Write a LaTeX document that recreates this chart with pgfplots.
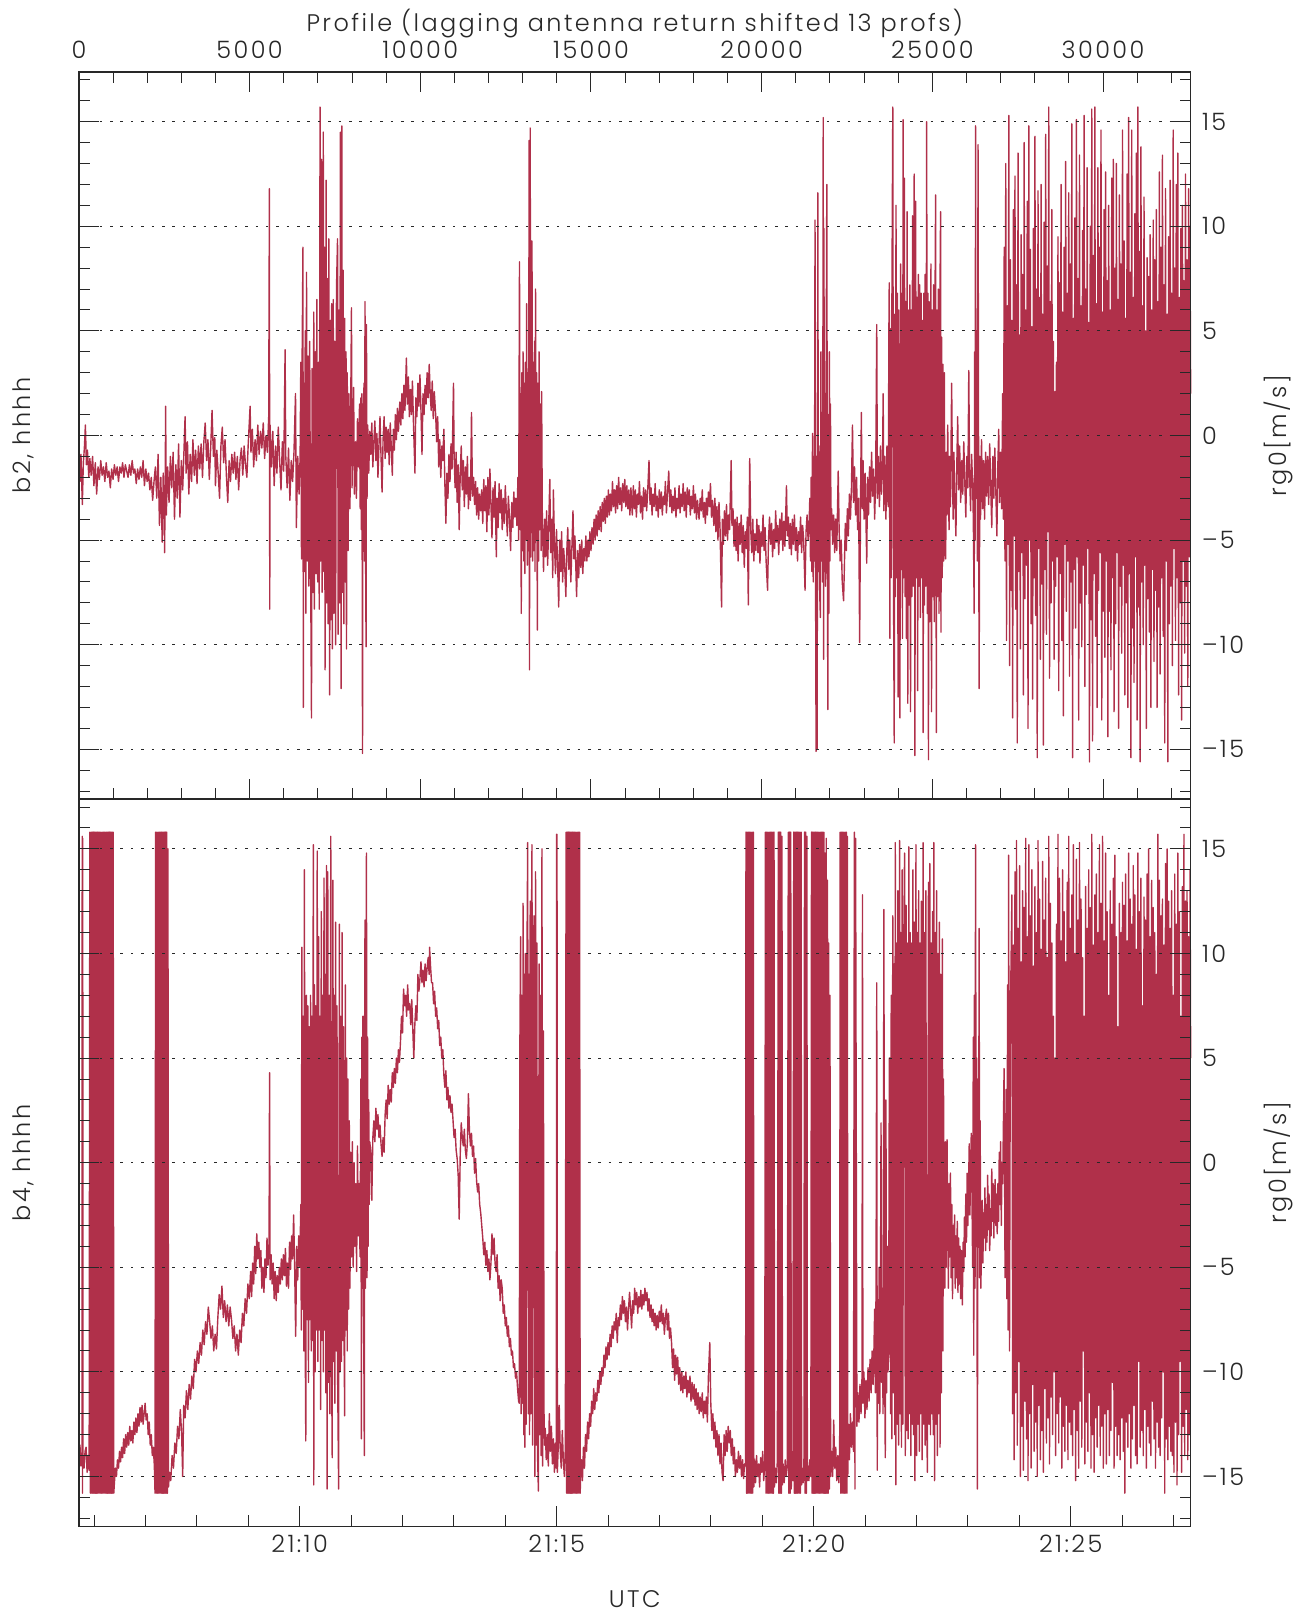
\documentclass[border=0pt]{standalone}
\usepackage{fontspec}
\setmainfont{Poppins}[UprightFont=* Light, LetterSpace=10]
\usepackage{pgfplots}
\pgfplotsset{compat=1.18}
\definecolor{dat}{RGB}{176,48,74}
\definecolor{ink}{RGB}{40,40,40}
\newcommand\lbl{\fontsize{12}{14}\selectfont}
\pgfplotsset{
  panel/.style={
    scale only axis, width=556.5pt, height=364pt,
    xmin=0, xmax=32566, ymin=-17.38, ymax=17.38,
    axis on top, clip=false, scaled x ticks=false,
    axis line style={draw=ink, line width=0.6pt},
    tick style={draw=ink, line width=0.5pt},
    tick align=inside, major tick length=10pt, minor tick length=5.5pt,
    ytick={-15,-10,...,15}, minor ytick={-17,-16,...,17}, ytick pos=both,
    yticklabel pos=right,
    yticklabels={--15,--10,--5,0,5,10,15},
    yticklabel style={anchor=west, inner sep=0pt, xshift=5.5pt},
    ymajorgrids,
    grid style={draw=ink, line width=0.5pt, dash pattern=on 1.3pt off 3.9pt},
    tick label style={font=\lbl, text=ink},
  },
  trace/.style={dat, line width=0.7pt, line join=round},
}
\begin{document}
\begin{tikzpicture}
% upper panel: b2
\begin{axis}[panel, name=top,
  xtick={0,5000,...,30000}, xticklabels={0,5000,10000,15000,20000,25000,30000},
  minor xtick={1000,2000,...,32000}, xtick pos=both, xticklabel pos=right,
  xticklabel style={anchor=south, inner sep=0pt, yshift=6.5pt},
]
\addplot[trace] coordinates {
(0,-1.0) (30,-2.2) (60,-0.9) (100,-3.3) (130,-1.3) (160,-0.6) (190,0.5) (220,-1.4) (250,-0.7) (290,-2.0) (320,-1.1) (360,-1.9) (400,-1.0) (440,-2.4) (480,-1.3) (520,-2.8) (560,-1.5) (600,-2.1) (640,-1.2) (680,-1.9) (720,-1.5) (760,-2.2) (800,-1.3) (840,-2.0) (880,-1.7) (920,-2.5) (960,-1.6) (1000,-2.1) (1040,-1.4) (1080,-1.9) (1120,-1.5) (1160,-2.2) (1200,-1.5) (1240,-1.8) (1280,-1.3) (1320,-2.0) (1360,-1.4) (1400,-1.7) (1440,-2.0) (1480,-1.4) (1520,-1.9) (1560,-1.2) (1600,-1.8) (1640,-1.6) (1680,-2.3) (1720,-1.6) (1760,-2.1) (1800,-1.5) (1840,-2.0) (1880,-1.2) (1920,-2.4) (1960,-1.6) (2000,-2.2) (2040,-1.8) (2080,-2.6) (2120,-2.0) (2160,-3.1) (2200,-2.2)
(2240,-1.5) (2280,-3.0) (2320,-0.9) (2360,-4.3) (2400,-2.0) (2440,-5.1) (2470,-1.8) (2500,-3.6) (2510,-5.6) (2530,-2.0) (2540,1.4) (2560,-3.8) (2600,-1.5) (2640,-3.2)
(2680,-1.0) (2720,-2.5) (2760,-0.8) (2800,-4.0) (2840,-1.4) (2880,-3.0) (2920,-0.4) (2960,-3.9) (3000,-1.2) (3040,-2.6) (3080,-0.6) (3110,0.9) (3140,-1.8) (3180,-0.3) (3220,-2.8) (3260,-0.9) (3300,-2.2) (3340,-0.2) (3380,-1.9) (3420,-0.7) (3460,-2.3) (3500,-0.5) (3540,-1.6) (3580,-0.4) (3620,-2.0) (3660,-0.3) (3700,0.6) (3740,-1.2) (3780,-0.2) (3820,-2.1) (3860,-0.6) (3900,1.2) (3940,-1.0) (3980,-0.1) (4000,-2.4) (4040,-0.7) (4080,-1.8) (4120,-3.0) (4160,-0.5) (4200,0.4) (4240,-1.3) (4280,-0.2) (4320,-1.9) (4360,-3.2) (4400,-1.2) (4440,-2.2) (4480,-0.9) (4520,-1.8) (4560,-0.8) (4600,-2.1) (4640,-1.0) (4680,-2.6) (4720,-1.2) (4760,-0.6) (4800,-1.9) (4840,-0.5) (4880,-1.4) (4920,-2.0) (4960,-0.4)
(5015,1.4) (5040,-0.8) (5080,0.3) (5120,-1.5) (5160,-0.2) (5200,-1.2) (5240,0.5) (5280,-0.9) (5320,0.2) (5360,-0.6) (5400,0.6) (5440,-1.1) (5480,0.0) (5520,-0.8) (5560,0.9)
(5580,11.8) (5590,-8.3) (5600,0.5)
(5640,-1.5) (5680,0.2) (5720,-2.4) (5760,-0.5) (5800,-1.8) (5840,0.4) (5880,-1.2) (5920,-2.6) (5960,-0.3) (6000,-1.7) (6040,4.1) (6060,-1.0) (6100,-2.5) (6140,-0.6) (6180,-3.1) (6220,-1.2) (6260,-2.2) (6300,-0.8) (6345,2.0) (6370,-4.4) (6410,-1.0) (6450,-2.8)
(6480,-1.0) (6500,3.5) (6520,-5.9) (6540,4.0) (6563,9.0) (6573,-13.0) (6590,2.5) (6610,-6.5) (6630,5.0) (6650,-8.5) (6667,7.8) (6690,-6.0) (6710,3.8) (6735,-7.2) (6760,4.5) (6785,-5.5) (6813,-13.5) (6830,3.2) (6855,-7.5) (6880,5.9) (6897,-8.3) (6920,4.0) (6945,-6.6) (6970,6.5) (6995,-7.0) (7020,3.5) (7040,-8.3) (7064,15.7) (7080,-6.0) (7106,13.2) (7125,-7.5) (7158,14.5) (7175,-6.5) (7195,9.0) (7210,-11.2) (7242,12.2) (7260,-8.0) (7280,7.5) (7300,-9.0) (7320,9.4) (7346,-12.4) (7365,5.5) (7385,-8.8) (7405,6.3) (7425,-10.2) (7450,6.5) (7470,-8.5) (7495,4.5) (7520,-10.0) (7545,7.0) (7576,9.4) (7595,-9.5) (7620,6.0) (7640,-8.0) (7660,14.5) (7681,-12.1) (7702,14.8) (7720,-7.5) (7740,7.9) (7760,-9.0) (7785,5.6) (7805,-7.0) (7825,4.0) (7838,-10.2) (7860,3.0) (7885,-5.5) (7910,2.0) (7940,-3.5)
(7984,6.1) (8000,-2.5) (8030,0.5) (8047,2.3) (8070,-2.8) (8100,-0.3) (8130,-3.0) (8160,0.8) (8190,-1.5) (8220,1.5) (8240,-3.5)
(8260,1.8) (8275,-4.5) (8290,2.0) (8308,-15.2) (8320,1.5) (8335,-5.0) (8350,2.5) (8365,-6.0) (8381,6.4) (8395,-4.8) (8412,-10.1) (8423,5.3) (8440,-3.0) (8460,0.5)
(8490,-1.8) (8520,0.2) (8550,-0.9) (8580,0.6) (8610,-1.5) (8640,-0.3) (8670,0.7) (8700,-1.2) (8730,0.1) (8760,-2.0) (8790,-0.4) (8820,0.9) (8850,-1.0) (8880,-2.7) (8910,-0.2) (8940,0.9) (8970,-1.1) (9000,0.4) (9030,-0.8) (9060,0.3) (9090,-1.4) (9120,0.6) (9150,-0.5) (9180,-1.9) (9210,0.3) (9240,-0.7) (9270,1.0) (9300,-0.2) (9330,1.3) (9360,0.2) (9400,1.6)
(9430,0.5) (9460,2.0) (9490,0.8) (9520,2.4) (9550,1.2) (9593,3.7) (9620,1.5) (9650,2.8) (9680,0.9) (9710,2.2) (9740,1.0) (9770,2.6) (9800,0.6) (9844,-1.8) (9870,1.8) (9900,0.9) (9930,2.5) (9960,1.4) (9990,2.9) (10020,1.2) (10050,-0.9) (10080,2.0) (10110,1.0) (10140,2.4) (10170,1.5) (10200,3.0) (10230,1.8) (10262,3.4) (10290,2.0) (10320,1.2) (10350,2.6) (10380,0.8) (10410,2.1) (10450,1.0)
(10480,-0.3) (10510,0.9) (10540,-1.5) (10570,-0.2) (10600,-2.0) (10630,-0.5) (10660,-1.2) (10690,0.3) (10720,-2.3) (10750,-4.2) (10780,-1.8) (10810,-3.0) (10840,-0.9) (10870,-2.2) (10900,-0.4) (10930,-1.6) (10973,2.5) (10990,-1.0) (11020,-2.5) (11050,-0.8) (11080,-3.2) (11110,-1.4) (11140,-4.5) (11170,-1.8) (11200,-0.5) (11230,-2.6) (11260,-1.2) (11290,-3.4) (11320,-1.5) (11350,-2.8) (11380,-1.0) (11410,-3.5) (11440,-2.0) (11470,-3.1) (11500,1.1) (11530,-2.9) (11560,-2.0) (11590,-3.3) (11620,-2.2) (11650,-3.8) (11680,-2.5) (11710,-4.0) (11740,-2.8) (11770,-3.6) (11800,-2.6)
(11830,-4.2) (11860,-2.1) (11890,-3.6) (11920,-2.4) (11950,-4.6) (11980,-2.0) (12010,-3.8) (12040,-1.6) (12070,-3.3) (12100,-4.9) (12130,-2.5) (12160,-3.9) (12190,-2.2) (12227,-5.8) (12250,-3.0) (12280,-4.4) (12310,-2.3) (12340,-3.7) (12370,-2.6) (12400,-4.5) (12430,-3.0) (12460,-4.2) (12490,-2.4) (12520,-3.6) (12550,-4.8) (12580,-2.9) (12610,-3.8) (12645,-5.5) (12680,-3.2) (12710,-4.4) (12740,-2.7) (12770,-3.9) (12800,-3.0) (12830,-4.3)
(12860,-2.0) (12880,-5.0) (12906,8.3) (12925,-4.5) (12940,2.0) (12958,-8.5) (12975,3.0) (12990,-5.5) (13010,4.0) (13030,-6.0) (13045,2.5) (13063,-6.6) (13080,3.5) (13100,-5.0) (13115,6.3) (13135,-6.2) (13150,3.0) (13170,-5.5) (13188,14.1) (13198,-11.2) (13220,14.7) (13235,-5.8) (13255,5.0) (13272,9.3) (13290,-6.0) (13305,3.5) (13325,-5.5) (13345,4.5) (13360,-6.5) (13376,7.0) (13395,-5.0) (13410,3.0) (13428,-9.3) (13445,2.5) (13465,-6.0) (13480,4.0) (13500,-4.5) (13520,1.5) (13540,-5.5) (13554,2.1) (13575,-4.0)
(13610,-6.5) (13640,-4.0) (13670,-5.8) (13700,-3.6) (13730,-6.2) (13760,-4.4) (13794,-2.1) (13820,-5.6) (13850,-4.0) (13880,-6.8) (13899,-2.6) (13930,-5.2) (13960,-6.6) (13990,-4.5) (14020,-6.0) (14055,-8.2) (14080,-5.0) (14110,-6.5) (14140,-4.6) (14170,-7.0) (14200,-5.4) (14230,-6.2) (14264,-7.7) (14290,-5.6) (14320,-4.4) (14350,-6.4) (14380,-5.0) (14410,-7.0) (14440,-5.4) (14473,-3.6) (14500,-5.9) (14530,-4.8) (14560,-6.5) (14578,-7.7) (14610,-5.5) (14640,-6.8) (14670,-5.2) (14700,-6.3) (14730,-5.0) (14760,-6.6) (14790,-5.4) (14820,-6.0)
(14850,-4.8) (14880,-6.0) (14910,-5.0) (14940,-5.8) (14970,-4.6) (15000,-5.5) (15030,-4.4) (15060,-5.2) (15090,-4.0) (15120,-5.0) (15150,-3.8) (15180,-4.8) (15210,-3.6) (15240,-4.5) (15270,-3.4) (15300,-4.6) (15330,-3.2) (15360,-4.1) (15390,-3.0) (15420,-4.2) (15450,-2.9) (15480,-3.9) (15510,-2.6) (15540,-3.8) (15570,-2.8) (15600,-3.6) (15630,-2.2) (15660,-3.4) (15690,-2.6) (15720,-3.7) (15750,-2.4) (15780,-3.5) (15810,-2.0) (15840,-3.3) (15870,-2.5) (15900,-3.6) (15930,-2.3) (15960,-3.2) (15990,-2.1) (16020,-3.4) (16050,-2.4) (16080,-3.5) (16110,-2.6) (16140,-3.8) (16170,-2.5)
(16210,-3.8) (16240,-2.4) (16270,-3.5) (16300,-2.6) (16330,-3.9) (16360,-2.8) (16390,-3.3) (16420,-2.2) (16450,-3.7) (16480,-2.9) (16510,-4.0) (16540,-2.5) (16570,-3.4) (16600,-2.6) (16630,-3.6) (16660,-2.7) (16700,-1.2) (16730,-3.3) (16760,-2.5) (16790,-3.8) (16820,-2.8) (16850,-3.4) (16880,-2.3) (16910,-3.6) (16940,-2.9) (16970,-3.9) (17000,-2.6) (17030,-3.5) (17060,-2.7) (17090,-3.8) (17120,-2.9) (17150,-3.3) (17180,-2.2) (17210,-3.7) (17240,-2.8) (17278,-1.7) (17310,-3.4) (17340,-2.6) (17370,-3.7) (17400,-2.9) (17430,-3.6) (17460,-2.5) (17490,-3.9) (17520,-3.0) (17550,-3.5) (17580,-2.4) (17610,-3.7) (17640,-2.8) (17670,-3.4) (17700,-2.3) (17730,-3.6) (17760,-2.7) (17790,-3.9) (17820,-2.5) (17850,-3.3) (17880,-2.6) (17910,-3.8) (17940,-2.9) (17970,-3.5) (18000,-2.4) (18030,-3.7) (18060,-2.8) (18090,-4.0) (18120,-3.1) (18166,-4.0) (18200,-3.0) (18230,-3.6) (18260,-2.6) (18290,-3.9) (18320,-3.2) (18350,-4.2) (18380,-3.0) (18410,-3.8) (18440,-2.7) (18470,-3.4) (18500,-2.3) (18530,-3.9) (18560,-3.1)
(18600,-4.3) (18630,-3.0) (18660,-4.6) (18690,-3.4) (18720,-5.0) (18750,-3.2) (18780,-4.4) (18825,-8.2) (18850,-4.0) (18880,-5.2) (18910,-3.6) (18940,-4.8) (18970,-3.3) (19000,-5.0) (19030,-3.8) (19060,-4.5) (19107,-1.2) (19130,-4.3) (19160,-3.5) (19190,-5.3) (19220,-4.0) (19250,-5.5) (19280,-3.9) (19310,-6.0) (19340,-4.2) (19370,-5.2) (19400,-3.8) (19430,-5.6) (19460,-4.3) (19490,-6.3) (19520,-4.6) (19550,-5.4) (19580,-3.9) (19609,-8.1) (19630,-4.2) (19650,-1.1) (19680,-4.5) (19710,-5.6) (19740,-4.0) (19770,-6.0) (19800,-4.7) (19830,-5.5)
(19860,-4.0) (19890,-5.6) (19920,-4.3) (19950,-6.1) (19980,-4.6) (20010,-5.3) (20040,-3.8) (20070,-5.5) (20100,-4.4) (20130,-6.0) (20173,-7.4) (20200,-5.0) (20230,-3.9) (20260,-5.2) (20290,-4.2) (20320,-5.8) (20350,-4.5) (20380,-5.4) (20410,-3.6) (20440,-5.1) (20470,-4.3) (20500,-5.7) (20530,-4.0) (20560,-5.0) (20590,-3.7) (20620,-5.5) (20650,-4.1) (20680,-5.3) (20727,-2.4) (20750,-4.8) (20780,-3.9) (20810,-5.4) (20840,-4.2) (20870,-5.7) (20900,-4.0) (20930,-5.2) (20960,-3.8) (20990,-5.5) (21020,-4.4) (21050,-6.0) (21080,-4.6) (21110,-5.2) (21140,-3.9) (21170,-5.6) (21200,-4.3) (21230,-5.0) (21270,-7.4) (21300,-4.6) (21330,-3.8) (21360,-5.0) (21390,-4.2)
(21410,-3.0) (21430,-6.0) (21450,-2.0) (21470,-6.5) (21490,0.1) (21510,-7.0) (21530,-1.0) (21545,-6.0) (21563,10.3) (21580,-7.5) (21594,-15.1) (21610,-1.0) (21625,-15.0) (21646,11.6) (21660,-6.5) (21680,-0.5) (21700,-7.5) (21720,-8.7) (21735,4.0) (21750,-6.0) (21770,1.0) (21785,-7.0) (21803,15.2) (21815,-10.7) (21824,9.9) (21840,-6.5) (21855,2.0) (21870,-7.2) (21890,3.5) (21908,12.0) (21925,-6.0) (21939,-13.1) (21955,1.0) (21970,-8.5) (21985,4.0) (22000,-6.0) (22015,1.5) (22030,-4.5)
(22050,-3.5) (22080,-5.2) (22110,-3.8) (22140,-5.6) (22170,-4.0) (22200,-5.5) (22242,-1.7) (22270,-4.6) (22300,-6.0) (22330,-5.0) (22360,-7.0) (22399,-7.9) (22420,-6.5) (22450,-4.2) (22480,-5.5) (22510,-3.5) (22540,-4.8) (22570,-2.8) (22600,-4.0) (22630,-2.5) (22660,0.5) (22690,-3.2) (22720,-1.5) (22750,-3.8) (22780,-2.0) (22810,-4.5) (22840,-3.0) (22870,-9.9)
(22900,-2.5) (22920,1.1) (22945,-3.5) (22970,-1.2) (23000,-4.0) (23030,-1.8) (23050,-3.6) (23078,-6.1) (23100,-2.0) (23130,-3.8) (23160,-1.5) (23190,-3.2) (23220,-0.8) (23250,-2.9) (23280,-1.6) (23310,-4.0) (23340,-2.0) (23371,5.3) (23390,-3.0) (23420,-1.0) (23450,-3.4) (23480,-0.5) (23510,-2.8) (23540,-1.2) (23559,2.0) (23580,-3.6) (23610,-1.0) (23640,-4.0) (23670,-0.5) (23690,-3.0)
(23710,-3.4) (23725,4.7) (23737,7.3) (23757,-9.7) (23775,5.1) (23795,-6.8) (23815,6.4) (23841,15.7) (23860,-6.4) (23883,-14.7) (23900,5.8) (23918,-7.7) (23935,11.0) (23955,-6.8) (23975,6.8) (23995,-12.5) (24015,6.0) (24030,-7.2) (24050,-13.5) (24070,8.2) (24090,-6.4) (24110,6.8) (24125,-9.7) (24144,15.1) (24160,-6.8) (24180,12.3) (24200,-7.7) (24220,6.4) (24240,-9.7) (24260,10.7) (24280,-12.8) (24300,6.0) (24320,-8.1) (24340,7.2) (24360,-13.2) (24380,6.0) (24400,-7.7) (24420,10.5) (24440,-7.2) (24468,12.5) (24489,-15.3) (24510,11.2) (24530,-6.8) (24550,6.6) (24570,-12.2) (24590,7.7) (24610,-7.2) (24630,7.2) (24650,-8.7) (24670,6.8) (24690,-6.8) (24710,5.5) (24730,-14.2) (24750,6.8) (24770,-8.1) (24790,7.7) (24810,-7.2) (24834,15.0) (24850,-8.5) (24870,6.8) (24886,-15.5) (24905,6.4) (24925,-8.9) (24959,8.2) (24975,-13.2) (24995,6.0) (25015,-7.7) (25035,7.2) (25055,-8.9) (25075,5.5) (25095,11.5) (25116,-14.2) (25135,6.0) (25155,-7.7) (25175,7.0) (25195,-8.5) (25215,5.1) (25241,10.7) (25252,-9.4) (25270,4.7) (25290,-6.8) (25310,3.4) (25330,-6.0) (25350,3.0) (25370,-5.5)
(25390,-5.9) (25410,-0.8) (25430,-3.8) (25450,0.5) (25470,-2.6) (25490,-4.5) (25510,-1.0) (25530,-3.4) (25565,2.5) (25590,-2.0) (25610,-4.0) (25630,-0.8) (25660,-3.0) (25690,-4.8) (25715,-1.5) (25742,0.9) (25770,-2.6) (25800,-0.5) (25830,-3.2) (25860,-1.2) (25890,-2.8) (25920,-0.3) (25950,-2.2) (25980,-3.9) (26010,-1.0) (26040,-2.5) (26067,3.1) (26090,-1.8) (26120,-3.6) (26150,-0.9) (26180,-2.4) (26200,-4.0)
(26225,-8.5) (26240,4.0) (26255,-5.0) (26265,14.8) (26280,-3.0) (26300,5.0) (26320,-6.0) (26338,13.9) (26355,-2.0) (26370,-12.1) (26390,-1.0) (26410,-4.0)
(26440,-0.2) (26470,-3.5) (26500,-1.2) (26530,-4.0) (26560,-0.8) (26590,-2.9) (26620,-1.0) (26650,-3.3) (26680,-0.4) (26710,-2.5) (26740,-4.4) (26770,-1.0) (26800,-3.0) (26830,-0.6) (26860,-2.7) (26890,-4.8) (26920,-1.3) (26944,0.3) (26970,-3.2) (27000,-0.8) (27030,-3.5)
(27060,2.0) (27082,-4.0) (27105,9.0) (27127,-6.0) (27150,13.0) (27172,-9.8) (27195,6.2) (27217,-5.2) (27240,15.3) (27262,-11.0) (27285,8.4) (27307,-7.4) (27330,5.5) (27352,-13.5) (27375,10.8) (27397,-4.8) (27420,12.4) (27442,-8.3) (27465,7.2) (27487,-14.7) (27510,13.5) (27532,-6.5) (27555,4.8) (27577,-10.2) (27600,9.6) (27622,-5.6) (27645,7.7) (27667,-12.4) (27690,14.0) (27712,-7.8) (27735,6.0) (27757,-6.2) (27780,11.2) (27802,-14.0) (27825,14.8) (27847,-5.0) (27870,8.9) (27892,-9.0) (27915,5.2) (27937,-12.6) (27960,9.9) (27982,-6.8) (28005,14.3) (28027,-8.6) (28050,7.0) (28072,-15.4) (28095,11.7) (28117,-5.4) (28140,6.6) (28162,-10.7) (28185,12.0) (28207,-7.1) (28230,5.8) (28252,-14.8) (28275,10.2) (28297,-6.4) (28320,14.4) (28342,-9.5) (28365,8.1) (28387,-4.6) (28410,15.7) (28432,-11.6) (28455,6.4) (28477,-8.0) (28500,10.8) (28522,-6.0) (28545,4.5) (28567,-10.7) (28590,2.1) (28612,-7.2) (28635,3.5) (28657,-5.8) (28680,9.5) (28702,-12.2) (28725,7.3) (28747,-6.6) (28770,12.0) (28792,-9.8) (28815,5.9) (28837,-13.4) (28860,9.0) (28882,-5.2) (28905,13.1) (28927,-8.4) (28950,6.8) (28972,-6.0) (28995,11.6) (29017,-11.5) (29040,8.2) (29062,-7.0) (29085,14.9) (29107,-15.4) (29130,5.6) (29152,-6.4) (29175,10.4) (29197,-9.2) (29220,15.1) (29242,-5.8) (29265,7.5) (29287,-13.6) (29310,13.4) (29332,-8.0) (29355,6.2) (29377,-10.1) (29400,9.8) (29422,-6.2) (29445,15.3) (29467,-12.0) (29490,7.0) (29512,-7.6) (29535,12.8) (29557,-5.4) (29580,5.4) (29602,-15.6) (29625,10.0) (29647,-8.8) (29670,15.6) (29692,-14.6) (29715,8.6) (29737,-6.6) (29760,15.7) (29782,-9.6) (29805,6.3) (29827,-13.0) (29850,12.8) (29872,-7.4) (29895,9.0) (29917,-5.6) (29940,14.6) (29962,-13.6) (29985,5.9) (30007,-8.4) (30030,10.8) (30052,-10.6) (30075,12.6) (30097,-6.0) (30120,7.4) (30142,-14.4) (30165,11.0) (30187,-8.4) (30210,6.0) (30232,-11.2) (30255,12.3) (30277,-6.8) (30300,13.2) (30322,-13.2) (30345,8.0) (30367,-9.0) (30390,13.0) (30412,-5.6) (30435,6.5) (30457,-14.0) (30480,11.5) (30502,-7.2) (30525,8.2) (30547,-10.4) (30570,14.6) (30592,-6.2) (30615,9.3) (30637,-12.4) (30660,5.6) (30682,-8.0) (30705,12.5) (30727,-13.0) (30750,15.2) (30772,-6.6) (30795,7.8) (30817,-15.4) (30840,14.6) (30862,-9.2) (30885,6.6) (30907,-11.8) (30930,10.6) (30952,-5.8) (30975,13.5) (30997,-13.6) (31020,15.7) (31042,-8.2) (31065,8.8) (31087,-15.6) (31110,13.8) (31132,-7.0) (31155,6.2) (31177,-10.0) (31200,11.4) (31222,-6.2) (31245,5.0) (31267,-14.0) (31290,8.5) (31312,-7.8) (31335,7.6) (31357,-9.4) (31380,9.6) (31402,-13.0) (31425,6.0) (31447,-6.4) (31470,10.3) (31492,-10.8) (31515,8.4) (31537,-7.4) (31560,10.8) (31582,-13.0) (31605,6.4) (31627,-8.2) (31650,12.6) (31672,-11.4) (31695,9.0) (31717,-6.8) (31740,13.4) (31762,-9.6) (31785,7.2) (31807,-14.7) (31830,11.8) (31852,-6.0) (31875,5.8) (31897,-15.6) (31920,9.5) (31942,-9.0) (31965,12.2) (31987,-7.2) (32010,6.8) (32032,-11.0) (32055,14.6) (32077,-5.4) (32100,8.0) (32122,-9.8) (32145,12.0) (32167,-6.8) (32190,13.5) (32212,-12.4) (32235,6.6) (32257,-8.0) (32280,9.9) (32302,-13.6) (32325,11.0) (32347,-6.0) (32370,7.4) (32392,-10.4) (32415,12.5) (32437,-7.2) (32460,8.4) (32482,-12.0) (32505,11.8) (32527,-5.8) (32545,10.0) (32566,2.0)
};
\coordinate (TL) at (rel axis cs:0,1);
\coordinate (BL) at (rel axis cs:0,0);
\node[rotate=90, font=\lbl, text=ink] at (rel axis cs:-0.0503,0.5) {b2, hhhh};
\node[rotate=90, font=\lbl, text=ink] at (rel axis cs:1.079,0.5) {rg0[m/s]};
\node[anchor=base, yshift=20pt, font=\lbl, text=ink] at (rel axis cs:0.5,1) {Profile (lagging antenna return shifted 13 profs)};
\end{axis}
% lower panel: b4
\begin{axis}[panel, name=bot, at={(BL)}, anchor=north west,
  xtick={6466,13995,21524,29052}, xticklabels={21:10,21:15,21:20,21:25},
  minor xtick={443,1949,3455,4960,7972,9477,10983,12489,15501,17006,18512,20018,23029,24535,26041,27546,30558,32063},
  xtick pos=left, xticklabel pos=left,
  xticklabel style={anchor=north, inner sep=0pt, yshift=-4pt},
]
\addplot[trace] coordinates {
(0,-14.2) (30,-13.5) (60,-14.5) (90,-14.0) (97,15.6) (104,-15.8) (112,15.5) (120,-14.0) (150,-14.6) (180,-13.8) (210,-13.6) (240,-14.8) (270,-14.0) (300,-14.7)
(320,15.8) (338,-15.8) (356,15.8) (374,-15.8) (392,15.8) (410,-15.8) (428,15.8) (446,-15.8) (464,15.8) (482,-15.8) (500,15.8) (518,-15.8) (536,15.8) (554,-15.8) (572,15.8) (590,-15.8) (608,15.8) (626,-15.8) (644,15.8) (662,-15.8) (680,15.8) (698,-15.8) (716,15.8) (734,-15.8) (752,15.8) (770,-15.8) (788,15.8) (806,-15.8) (824,15.8) (842,-15.8) (860,15.8) (878,-15.8) (896,15.8) (914,-15.8) (932,15.8) (950,-15.8) (968,15.8) (986,-15.8) (1004,15.8) (1022,-15.8)
(1040,-15.3) (1070,-14.6) (1100,-15.0) (1130,-14.2) (1160,-14.6) (1190,-13.8) (1220,-14.3) (1250,-13.6) (1280,-14.1) (1310,-13.2) (1340,-13.9) (1370,-13.0) (1400,-13.6) (1430,-12.9) (1460,-13.5) (1490,-12.6) (1520,-13.3) (1550,-12.8) (1580,-13.4) (1610,-12.4) (1640,-13.0) (1670,-12.2) (1700,-12.9) (1730,-12.0) (1760,-12.6) (1790,-11.7) (1820,-12.4) (1850,-11.6) (1880,-12.5) (1910,-12.0) (1940,-11.5) (1970,-12.3) (2000,-12.0) (2030,-13.0) (2060,-12.4) (2090,-13.5) (2120,-13.0) (2150,-14.0) (2180,-13.6) (2210,-14.5)
(2230,-15.8) (2248,15.8) (2266,-15.8) (2284,15.8) (2302,-15.8) (2320,15.8) (2338,-15.8) (2356,15.8) (2374,-15.8) (2392,15.8) (2410,-15.8) (2428,15.8) (2446,-15.8) (2464,15.8) (2482,-15.8) (2500,15.8) (2518,-15.8) (2536,15.8) (2554,-15.8) (2572,15.8) (2590,-15.8) (2608,15.0) (2625,-15.5)
(2650,-14.8) (2690,-15.2) (2730,-14.0) (2770,-14.6) (2810,-13.4) (2850,-13.9) (2890,-12.6) (2930,-13.2) (2970,-11.8) (3010,-13.0) (3040,-15.0) (3070,-11.6) (3110,-12.2) (3150,-10.9) (3190,-11.8) (3230,-10.6) (3270,-11.3) (3310,-10.2) (3350,-10.8) (3390,-9.4) (3430,-10.0) (3470,-9.0) (3510,-9.6) (3550,-8.6) (3590,-9.2) (3630,-8.0) (3670,-8.7) (3710,-7.6) (3750,-8.2) (3790,-6.9) (3830,-7.6) (3870,-8.4) (3910,-7.8) (3950,-9.0) (3990,-8.2) (4030,-8.9) (4070,-7.4) (4110,-6.3) (4150,-7.0) (4190,-5.9) (4230,-7.4) (4270,-6.6) (4310,-7.6) (4350,-6.8) (4390,-7.8) (4430,-6.9) (4470,-7.5) (4510,-8.4) (4550,-7.8) (4590,-9.0) (4630,-8.2) (4670,-9.2) (4710,-8.0) (4750,-8.6) (4790,-7.2) (4830,-7.8) (4870,-6.5) (4910,-7.2) (4950,-5.8) (4990,-6.5)
(5030,-5.2) (5060,-6.4) (5090,-4.8) (5120,-5.8) (5150,-4.0) (5180,-5.3) (5210,-3.4) (5240,-4.6) (5270,-3.8) (5300,-5.0) (5330,-4.2) (5360,-6.0) (5390,-5.0) (5420,-6.2) (5450,-4.6) (5480,-5.5) (5510,-3.6) (5540,-4.9) (5570,-3.8) (5585,4.3) (5600,-5.6) (5630,-4.4) (5660,-5.8) (5690,-4.8) (5720,-6.5) (5750,-5.2) (5780,-6.6) (5810,-5.4) (5840,-6.2) (5870,-5.0) (5900,-5.8) (5930,-4.6) (5960,-5.6) (5990,-4.4) (6020,-5.4) (6050,-4.1) (6080,-5.9) (6110,-4.8) (6140,-6.0) (6170,-3.8) (6200,-5.1) (6230,-3.5) (6260,-4.6) (6290,-2.5) (6320,-5.0) (6350,-8.3) (6380,-4.0) (6410,-5.6) (6440,-3.5) (6470,-5.0)
(6480,-4.0) (6500,-2.0) (6515,-8.0) (6531,10.3) (6550,-7.0) (6570,7.0) (6590,-9.0) (6605,14.0) (6625,-7.0) (6646,-13.3) (6665,8.0) (6685,-7.5) (6705,7.5) (6725,-10.5) (6745,6.5) (6765,-7.5) (6785,8.0) (6805,-9.0) (6825,7.0) (6845,-8.5) (6866,15.2) (6880,-15.4) (6900,8.5) (6920,-10.0) (6940,7.5) (6960,-8.0) (6981,14.9) (7000,-9.5) (7020,10.8) (7040,-8.0) (7060,7.0) (7080,-11.8) (7100,12.0) (7120,-8.5) (7140,8.0) (7160,-10.0) (7180,13.6) (7200,-8.0) (7220,9.0) (7235,-11.0) (7252,14.2) (7270,-15.6) (7290,13.9) (7310,-10.5) (7330,8.0) (7350,-12.0) (7378,15.6) (7400,-9.0) (7420,-14.1) (7440,13.5) (7460,-9.5) (7480,8.0) (7500,-11.5) (7520,11.5) (7540,-9.0) (7560,7.5) (7580,-10.5) (7608,-15.6) (7629,11.4) (7650,-10.0) (7670,7.0) (7690,-9.5) (7710,11.0) (7730,-8.5) (7750,6.5) (7770,-9.0) (7785,-12.1) (7805,8.5) (7825,-8.0) (7845,5.0) (7860,-9.0) (7880,4.0) (7900,-7.0) (7920,2.0) (7940,-6.0)
(7960,0.5) (7985,-4.5) (8010,1.0) (8035,-5.0) (8060,0.0) (8085,-4.0) (8110,-1.0) (8135,-5.2) (8160,0.8) (8185,-3.5) (8210,-1.0) (8235,-4.5)
(8260,4.0) (8276,-13.2) (8290,6.0) (8305,-6.0) (8320,7.0) (8340,-6.5) (8360,-14.0) (8372,7.9) (8381,11.6) (8395,-6.0) (8410,5.0) (8423,14.8) (8440,-5.5) (8455,6.0) (8470,-4.0) (8490,3.0) (8505,-2.0) (8520,1.0)
(8550,0.5) (8580,-1.8) (8610,1.2) (8640,2.0) (8670,1.0) (8700,2.6) (8730,1.6) (8760,2.3) (8790,1.2) (8820,1.8) (8850,0.9) (8880,0.3) (8910,1.2) (8940,0.5) (8970,2.3) (9000,3.0) (9030,2.1) (9060,3.7) (9090,2.8) (9120,3.5) (9150,2.9) (9180,4.3) (9210,3.6) (9240,4.5) (9270,3.8) (9300,5.0) (9330,4.3) (9360,5.4) (9390,4.8)
(9420,5.8) (9450,7.0) (9480,6.2) (9510,8.3) (9540,7.5) (9570,8.0) (9600,7.0) (9630,8.5) (9660,7.3) (9690,7.6) (9720,6.6) (9750,7.8) (9780,6.4) (9810,5.0) (9840,6.6) (9870,7.5) (9900,6.8) (9930,9.0) (9960,8.2) (9990,8.8) (10020,9.6) (10050,8.6) (10080,9.2) (10110,8.4) (10140,9.5) (10170,8.7) (10200,9.3) (10230,9.8) (10260,9.0) (10272,10.3) (10300,9.4) (10330,8.6)
(10360,8.6) (10390,7.6) (10420,8.2) (10450,7.0) (10480,7.4) (10510,6.4) (10540,6.8) (10570,5.6) (10600,6.0) (10630,5.0) (10660,5.4) (10690,4.2) (10720,3.6) (10750,4.4) (10780,3.0) (10810,3.6) (10840,2.6) (10870,3.2) (10900,2.4) (10930,2.8) (10960,2.0) (10990,1.2) (11020,1.6) (11050,0.6) (11080,0.2) (11110,-0.6) (11140,-2.7) (11170,0.4) (11200,1.9) (11230,1.2) (11260,0.8) (11290,1.6) (11320,0.6) (11350,0.2) (11380,1.0) (11410,3.3) (11440,1.5) (11470,0.8) (11500,1.4) (11530,0.3) (11560,0.8) (11590,-0.5) (11620,0.2) (11650,-0.9) (11680,-1.4) (11710,-1.0) (11740,-2.0) (11770,-2.4) (11800,-3.0)
(11830,-3.6) (11860,-4.4) (11890,-3.8) (11920,-4.9) (11950,-4.2) (11980,-5.2) (12010,-4.6) (12040,-5.6) (12070,-4.8) (12100,-3.4) (12130,-4.4) (12160,-3.6) (12190,-4.8) (12220,-5.2) (12250,-4.4) (12280,-6.0) (12310,-5.4) (12340,-6.6) (12370,-5.6) (12400,-6.0) (12430,-7.2) (12460,-6.8) (12490,-7.8) (12520,-7.4) (12550,-8.3) (12580,-7.8) (12610,-8.8) (12640,-8.4) (12670,-9.2) (12700,-9.0) (12730,-9.8) (12760,-9.6) (12790,-10.3) (12820,-10.0) (12850,-10.8) (12880,-11.4)
(12900,-11.5) (12915,5.0) (12937,10.8) (12955,-12.0) (12975,8.0) (12995,-11.5) (13010,12.4) (13030,-13.0) (13045,9.0) (13063,-13.6) (13080,10.0) (13100,-12.5) (13120,8.5) (13146,15.3) (13165,-12.0) (13185,9.0) (13200,-13.0) (13220,12.5) (13240,-12.0) (13255,11.0) (13272,15.2) (13290,-13.5) (13310,9.5) (13334,11.8) (13355,-15.0) (13376,13.9) (13395,-13.5) (13415,10.5) (13435,-14.0) (13460,-15.7) (13480,9.5) (13500,-13.0) (13520,8.0) (13540,-14.0) (13564,15.0) (13585,-14.5) (13606,6.3) (13625,-12.0) (13640,-13.5)
(13660,-12.7) (13690,-14.2) (13720,-13.0) (13750,-14.5) (13780,-12.0) (13810,-13.8) (13840,-12.6) (13870,-14.4) (13900,-13.2) (13930,-14.8) (13960,-13.4) (13985,-14.6) (13995,15.7) (14005,15.7) (14015,-14.8) (14040,-13.6) (14070,-11.6) (14100,-13.8) (14130,-14.6) (14160,-12.8) (14190,-14.2) (14220,-15.0) (14250,-13.6)
(14270,15.8) (14288,-15.8) (14306,15.8) (14324,-15.8) (14342,15.8) (14360,-15.8) (14378,15.8) (14396,-15.8) (14414,15.8) (14432,-15.8) (14450,15.8) (14468,-15.8) (14486,15.8) (14504,-15.8) (14522,15.8) (14540,-15.8) (14558,15.8) (14576,-15.8) (14594,15.8) (14612,-15.8) (14630,15.8) (14648,-15.8) (14666,15.8) (14684,-15.8) (14695,-15.0)
(14720,-14.2) (14750,-15.2) (14780,-13.6) (14810,-14.6) (14840,-13.0) (14870,-13.8) (14900,-12.4) (14930,-13.2) (14960,-12.0) (14990,-12.6) (15020,-11.4) (15050,-12.0) (15080,-10.8) (15110,-11.8) (15140,-11.0) (15170,-11.4) (15200,-10.4) (15230,-11.0) (15260,-10.0) (15290,-10.6) (15320,-9.8) (15350,-10.2) (15380,-9.2) (15410,-9.8) (15440,-8.8) (15470,-9.4) (15500,-8.6) (15530,-9.2) (15560,-8.2) (15590,-8.8) (15620,-7.8) (15650,-8.4) (15680,-7.6) (15710,-8.0) (15740,-7.2) (15770,-8.6) (15800,-7.4) (15830,-7.8) (15860,-6.8) (15890,-7.5) (15920,-6.4) (15950,-7.2) (15980,-6.6) (16010,-7.6) (16040,-6.9) (16070,-8.0) (16100,-7.0) (16130,-6.2) (16160,-7.0)
(16190,-7.9) (16220,-6.6) (16250,-7.2) (16280,-6.0) (16310,-6.8) (16340,-6.2) (16370,-7.2) (16400,-6.4) (16430,-6.9) (16460,-6.1) (16490,-7.0) (16520,-6.3) (16550,-6.8) (16580,-6.0) (16610,-6.6) (16640,-6.2) (16670,-7.1) (16700,-6.5) (16730,-7.4) (16760,-6.8) (16790,-7.6) (16820,-7.0) (16850,-7.8) (16880,-7.2) (16910,-8.0) (16940,-7.3) (16970,-7.9) (17000,-7.1) (17030,-7.6) (17060,-6.8) (17090,-7.7) (17120,-7.2) (17150,-8.2) (17180,-7.4) (17210,-7.0) (17240,-8.0) (17270,-7.2) (17300,-8.4) (17330,-7.9)
(17360,-8.6) (17390,-9.8) (17420,-8.9) (17450,-10.4) (17480,-9.2) (17510,-10.1) (17540,-9.3) (17570,-10.6) (17600,-9.8) (17630,-10.9) (17660,-10.0) (17690,-11.0) (17720,-10.2) (17750,-10.8) (17780,-10.0) (17810,-11.2) (17840,-10.4) (17870,-11.0) (17900,-10.2) (17930,-11.4) (17960,-10.5) (17990,-11.3) (18020,-10.6) (18050,-11.6) (18080,-10.8) (18110,-11.8) (18140,-11.0) (18170,-12.0) (18200,-11.2) (18230,-11.9) (18260,-11.0) (18290,-12.2) (18320,-11.4) (18350,-12.0) (18380,-11.2) (18410,-12.4) (18440,-10.2) (18480,-8.6) (18510,-11.5) (18540,-12.8) (18570,-12.0) (18600,-13.2) (18630,-12.4) (18660,-13.6) (18690,-12.8) (18720,-14.0) (18750,-13.0) (18780,-14.4) (18810,-13.4) (18840,-14.8) (18870,-15.2) (18900,-13.0) (18930,-14.0) (18960,-12.8) (18990,-13.8) (19020,-12.6) (19050,-13.4) (19080,-12.8) (19110,-14.0) (19140,-13.2) (19170,-14.4) (19200,-13.6) (19230,-15.0) (19260,-14.2) (19290,-14.8) (19320,-13.8) (19350,-14.6) (19380,-14.0) (19410,-15.0) (19440,-14.2) (19470,-15.1) (19500,-14.4)
(19530,-14.5) (19540,15.8) (19558,-15.8) (19576,15.8) (19594,-15.8) (19612,15.8) (19630,-15.8) (19648,15.8) (19666,-15.8) (19684,15.8) (19702,-15.8) (19720,15.8) (19738,-15.8) (19756,15.8) (19770,-15.5)
(19790,-14.2) (19820,-15.3) (19850,-14.0) (19880,-15.0) (19910,-14.4) (19940,-15.5) (19970,-14.1) (20000,-14.8) (20030,-13.8) (20060,-15.2) (20090,-14.4)
(20110,15.8) (20128,-15.8) (20146,15.8) (20164,-15.8) (20182,15.8) (20200,-15.8) (20218,15.8) (20236,-15.8) (20254,15.8) (20272,-15.8) (20290,15.8) (20308,-15.8) (20326,15.8) (20344,-15.8) (20362,15.8) (20375,-15.5)
(20400,-14.6) (20430,-15.3) (20460,-14.2)
(20487,15.8) (20505,-15.8) (20523,15.8) (20541,-15.8) (20559,15.8) (20577,-15.8) (20595,15.6) (20608,-15.4)
(20630,-14.4) (20660,-15.3) (20690,-14.2) (20720,-15.0) (20750,-14.5)
(20780,15.8) (20798,-15.8) (20816,15.8) (20834,-15.8) (20852,15.8) (20865,-15.6)
(20890,-14.6) (20915,-15.2)
(20940,15.8) (20958,-15.8) (20976,15.8) (20994,-15.8) (21012,15.8) (21030,-15.8) (21048,15.8) (21066,-15.8) (21084,15.8) (21102,-15.8) (21120,15.8) (21138,-15.8) (21156,15.8) (21170,-15.4)
(21190,-14.6) (21215,-15.3) (21238,-14.8)
(21255,15.8) (21273,-15.8) (21291,15.8) (21309,-15.8) (21325,15.6) (21338,-15.2)
(21360,-14.5) (21385,-15.2) (21410,-14.2) (21440,-15.0)
(21460,15.8) (21478,-15.8) (21496,15.8) (21514,-15.8) (21532,15.8) (21550,-15.8) (21568,15.8) (21586,-15.8) (21604,15.8) (21622,-15.8) (21640,15.8) (21658,-15.8) (21676,15.8) (21694,-15.8) (21712,15.8) (21730,-15.8) (21748,15.8) (21766,-15.8) (21784,15.8) (21802,-15.8) (21820,15.8) (21838,-15.8) (21856,14.8) (21874,-15.8) (21892,15.5) (21910,-15.8) (21928,13.5) (21946,-15.8) (21964,10.5) (21982,-15.6) (22000,8.0) (22020,-15.0)
(22050,-13.8) (22080,-15.0) (22110,-12.3) (22140,-14.6) (22170,-13.6) (22200,-15.2) (22230,-14.0) (22260,-15.3) (22285,-14.2)
(22300,15.8) (22318,-15.8) (22336,15.8) (22354,-15.8) (22372,15.8) (22390,-15.8) (22408,15.8) (22426,-15.8) (22444,15.8) (22462,-15.8) (22480,15.8) (22498,-15.8) (22510,15.6) (22522,-15.0)
(22540,-12.5) (22570,-14.2) (22600,-12.0) (22630,-13.6) (22660,-12.4) (22690,-13.8)
(22715,15.8) (22733,-15.6) (22751,15.5)
(22790,-12.6) (22820,-11.0) (22850,-12.4) (22880,-10.6) (22910,-12.0) (22940,-10.2) (22953,12.8) (22965,-11.5) (22995,-10.0) (23025,-12.2) (23055,-10.4) (23085,-11.8) (23115,-9.8) (23145,-11.4) (23175,-9.4) (23205,-11.0) (23235,-9.0) (23265,-10.6) (23290,-8.8)
(23310,-7.0) (23330,-11.0) (23350,-6.0) (23371,8.6) (23385,-14.7) (23400,-7.5) (23420,-11.5) (23440,-5.0) (23460,-12.0) (23480,-6.5) (23496,1.9) (23515,-10.5) (23535,-6.0) (23555,-12.0) (23580,12.1) (23600,-9.0) (23621,-14.1) (23640,3.0) (23660,-11.0) (23680,-4.0) (23700,-10.0)
(23720,-9.0) (23740,5.0) (23757,5.0) (23775,-12.0) (23795,8.0) (23815,-13.2) (23841,11.8) (23860,-11.0) (23880,9.5) (23900,-13.0) (23914,15.3) (23930,-15.4) (23950,10.5) (23970,-12.5) (23990,13.0) (24010,-13.5) (24039,15.4) (24055,-12.0) (24075,11.0) (24095,-13.6) (24115,14.0) (24135,-12.5) (24160,10.0) (24186,14.8) (24207,-14.0) (24230,12.3) (24250,-12.8) (24270,10.5) (24290,-13.2) (24311,15.1) (24330,-12.0) (24350,11.0) (24370,-14.0) (24390,10.5) (24410,-12.5) (24430,14.0) (24450,-13.0) (24470,11.5) (24489,-15.2) (24520,15.2) (24540,-14.0) (24560,11.0) (24580,-12.5) (24600,13.0) (24620,-13.8) (24640,10.5) (24660,-12.0) (24680,12.5) (24700,-14.2) (24729,15.3) (24750,-12.5) (24770,11.0) (24790,-13.5) (24810,13.0) (24830,-12.0) (24855,-14.8) (24886,13.4) (24905,-12.5) (24925,14.3) (24945,-13.0) (24965,10.5) (24985,-12.0) (25005,12.0) (25025,-13.0) (25043,15.3) (25064,-15.2) (25085,11.0) (25105,-12.5) (25125,13.0) (25145,-14.0) (25165,10.0) (25185,-12.0) (25205,11.5) (25225,-13.6) (25245,9.0) (25265,-11.0) (25293,10.7) (25310,-9.0) (25325,4.0)
(25345,-2.0) (25365,-6.0) (25385,1.0) (25405,-5.0) (25430,1.1) (25450,-3.0) (25470,-6.0) (25490,-1.0) (25510,-4.5) (25530,-0.5) (25550,-5.5) (25570,-2.0) (25590,-6.5) (25610,-3.0) (25630,-5.0) (25650,-2.5) (25670,-6.0) (25690,-3.5) (25710,-5.5) (25730,-2.8) (25750,-6.2) (25770,-3.6) (25790,-5.8) (25810,-4.0) (25830,-6.5) (25850,-4.2) (25878,-6.8) (25900,-3.8) (25920,-5.2) (25940,-2.6) (25960,-4.5) (25980,-1.5) (26000,-3.8) (26020,-0.5) (26040,-3.0) (26060,-1.2) (26080,0.9) (26100,-2.5) (26120,-0.2) (26140,1.4) (26160,-1.5)
(26180,-5.0) (26200,6.0) (26212,-9.2) (26230,8.0) (26250,-6.0) (26265,15.2) (26285,-4.0) (26300,5.0) (26318,-15.6) (26340,4.0) (26355,-3.0) (26370,11.2) (26385,-5.5) (26400,2.0) (26420,-6.0)
(26440,-4.0) (26460,-1.8) (26480,-4.8) (26500,-2.4) (26520,-3.6) (26540,-1.2) (26560,-4.2) (26580,-2.0) (26600,-3.8) (26620,-0.6) (26640,-3.2) (26660,-1.5) (26680,-4.2) (26700,-2.2) (26720,-3.5) (26740,-0.3) (26760,-2.8) (26780,-1.0) (26800,-3.6) (26820,-1.6) (26840,-0.8) (26860,-3.0) (26880,-1.5) (26900,-3.4) (26920,-1.0) (26940,-2.8) (26960,0.5) (26980,-2.0) (27000,1.0) (27020,-3.0) (27040,0.0)
(27060,-1.0) (27101,4.5) (27130,-5.5) (27160,3.5) (27180,-6.5) (27205,8.5) (27220,-8.0) (27233,14.7) (27260,-9.0) (27285,7.0)
(27330,12.8) (27352,-12.0) (27375,10.4) (27397,-14.2) (27420,13.9) (27442,-11.0) (27465,15.4) (27487,-13.5) (27510,11.2) (27532,-9.5) (27555,14.2) (27577,-15.0) (27600,9.6) (27622,-12.6) (27645,13.0) (27667,-14.7) (27690,12.2) (27712,-11.4) (27735,15.5) (27757,-13.2) (27780,10.8) (27802,-15.2) (27825,15.2) (27847,-12.0) (27870,11.8) (27892,-14.6) (27915,14.0) (27937,-10.6) (27960,9.4) (27982,-13.8) (28005,13.2) (28027,-12.4) (28050,11.0) (28072,-15.0) (28095,15.4) (28117,-11.6) (28140,12.6) (28162,-14.2) (28185,10.2) (28207,-12.8) (28230,14.4) (28252,-14.8) (28275,11.6) (28297,-10.8) (28320,13.6) (28342,-13.4) (28365,9.8) (28387,-12.2) (28410,15.6) (28432,-14.4) (28455,12.4) (28477,-11.2) (28500,10.5) (28522,-13.0) (28545,7.0) (28567,-10.0) (28590,5.0) (28612,-14.0) (28635,11.4) (28657,-12.0) (28680,15.7) (28702,-13.4) (28725,13.6) (28747,-11.2) (28770,10.6) (28792,-14.6) (28815,14.0) (28837,-12.6) (28860,12.0) (28882,-13.8) (28905,9.6) (28927,-11.6) (28950,13.4) (28972,-14.2) (28995,15.6) (29017,-12.4) (29040,11.2) (29062,-13.0) (29085,12.8) (29107,-14.0) (29130,15.2) (29152,-11.8) (29175,10.0) (29197,-15.2) (29220,14.5) (29242,-12.8) (29265,11.6) (29287,-14.6) (29310,15.3) (29332,-11.4) (29355,12.6) (29377,-13.6) (29400,9.8) (29422,-9.0) (29445,7.0) (29467,-14.4) (29490,13.2) (29512,-12.4) (29535,11.2) (29557,-13.8) (29580,14.0) (29602,-11.0) (29625,12.2) (29647,-14.6) (29670,15.7) (29692,-13.0) (29715,10.4) (29737,-14.8) (29760,12.8) (29782,-12.2) (29805,13.8) (29827,-13.6) (29850,11.0) (29872,-11.6) (29895,15.2) (29917,-14.0) (29940,12.4) (29962,-12.6) (29985,15.6) (30007,-14.6) (30030,10.6) (30052,-12.0) (30075,14.8) (30097,-14.4) (30120,12.0) (30142,-11.8) (30165,8.0) (30187,-14.0) (30210,13.0) (30232,-12.8) (30255,11.4) (30277,-10.5) (30300,13.6) (30322,-14.6) (30345,14.7) (30367,-12.6) (30390,10.8) (30412,-14.0) (30435,6.5) (30457,-13.0) (30480,12.4) (30502,-14.2) (30525,11.0) (30547,-12.2) (30570,13.4) (30592,-13.8) (30615,12.3) (30637,-15.8) (30660,13.8) (30682,-12.4) (30705,10.6) (30727,-13.6) (30750,14.8) (30772,-12.0) (30795,12.6) (30817,-14.6) (30840,11.4) (30862,-13.2) (30885,14.2) (30907,-11.6) (30930,12.8) (30952,-14.0) (30975,10.2) (30997,-14.4) (31020,14.8) (31042,-9.5) (31065,12.0) (31087,-13.6) (31110,13.6) (31132,-12.8) (31155,7.5) (31177,-14.0) (31200,12.7) (31222,-11.8) (31245,11.6) (31267,-14.6) (31290,13.8) (31312,-12.6) (31335,15.0) (31357,-13.4) (31380,10.8) (31402,-14.0) (31425,13.5) (31447,-11.4) (31470,12.2) (31492,-13.2) (31515,11.0) (31537,-14.6) (31560,9.0) (31582,-12.4) (31605,15.7) (31627,-13.6) (31650,13.5) (31672,-14.0) (31695,11.8) (31717,-12.2) (31740,12.6) (31762,-10.0) (31785,10.4) (31807,-15.8) (31830,14.3) (31852,-13.2) (31875,15.0) (31897,-14.2) (31920,12.5) (31942,-12.6) (31965,11.2) (31987,-13.8) (32010,13.0) (32032,-14.0) (32055,8.0) (32077,-14.8) (32100,13.8) (32122,-12.4) (32145,11.4) (32167,-15.4) (32190,14.8) (32212,-13.0) (32235,12.0) (32257,-9.5) (32280,7.0) (32302,-14.8) (32325,13.2) (32347,-12.6) (32370,15.7) (32392,-14.0) (32415,12.5) (32437,-11.8) (32460,13.0) (32482,-14.2) (32505,10.8) (32527,-13.0) (32548,14.0) (32566,5.0)
};
\coordinate (BR) at (rel axis cs:1,0);
\node[rotate=90, font=\lbl, text=ink] at (rel axis cs:-0.0503,0.5) {b4, hhhh};
\node[rotate=90, font=\lbl, text=ink] at (rel axis cs:1.079,0.5) {rg0[m/s]};
\node[anchor=base, yshift=-40.5pt, font=\lbl, text=ink] at (rel axis cs:0.5,0) {UTC};
\end{axis}
\path[use as bounding box] ([shift={(-39.5pt,36pt)}]TL) rectangle ([shift={(61.5pt,-42.5pt)}]BR);
\end{tikzpicture}
\end{document}
